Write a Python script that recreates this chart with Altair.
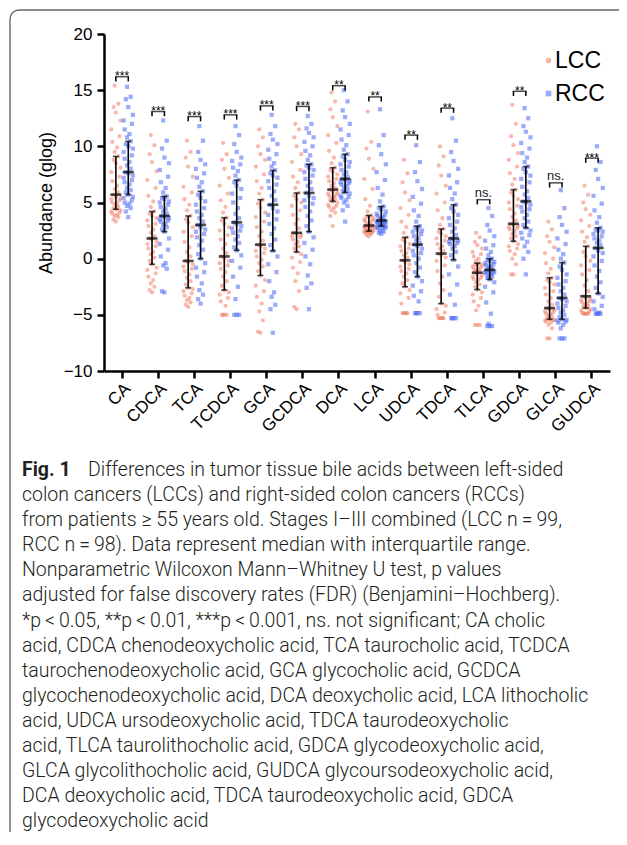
import altair as alt
import pandas as pd

acids = ["CA", "CDCA", "TCA", "TCDCA", "GCA", "GCDCA", "DCA", "LCA",
         "UDCA", "TDCA", "TLCA", "GDCA", "GLCA", "GUDCA"]
groups = ["LCC", "RCC"]

lcc_values = {
    "CA": [3.3,3.5,3.7,3.8,3.9,4.0,4.1,4.2,4.3,4.4,4.5,4.6,4.8,4.9,5.0,5.2,5.3,5.4,5.5,5.7,
           5.9,6.2,6.5,6.9,7.3,7.7,8.1,8.5,8.8,9.1,9.5,9.9,10.4,10.9,11.5,12.3,13.0,13.5,13.8,15.4],
    "CDCA": [-3.0,-2.8,-2.5,-2.2,-1.9,-1.6,-1.3,-1.0,-0.8,-0.5,-0.2,0.1,0.4,0.6,0.9,1.1,1.3,1.5,1.7,1.8,
             2.0,2.3,2.6,2.9,3.1,3.4,3.6,3.8,4.0,4.2,4.6,5.1,5.6,6.3,7.0,7.8,8.6,9.3,10.1,11.0],
    "TCA": [-4.3,-4.1,-3.9,-3.7,-3.5,-3.3,-3.1,-2.9,-2.7,-2.6,-2.3,-2.0,-1.7,-1.4,-1.1,-0.9,-0.7,-0.5,-0.3,-0.2,
            0.2,0.6,1.0,1.5,2.0,2.4,2.8,3.2,3.5,3.8,4.3,4.8,5.3,5.9,6.4,7.3,8.2,9.0,9.5,10.5],
    "TCDCA": [-5.0,-5.0,-5.0,-5.0,-4.2,-3.8,-3.5,-3.2,-3.0,-2.8,-2.4,-2.0,-1.6,-1.2,-0.9,-0.6,-0.4,-0.2,0.0,0.2,
              0.5,0.9,1.3,1.7,2.1,2.5,2.8,3.1,3.4,3.65,4.1,4.6,5.2,5.8,6.5,7.2,8.0,8.8,9.3,10.3],
    "GCA": [-6.6,-6.5,-5.5,-4.7,-4.0,-3.4,-2.9,-2.4,-1.9,-1.5,-1.1,-0.7,-0.4,-0.1,0.2,0.5,0.7,0.9,1.1,1.25,
            1.6,2.0,2.4,2.8,3.3,3.7,4.1,4.5,4.9,5.25,5.8,6.3,6.9,7.5,8.2,8.8,9.3,10.0,10.8,11.5],
    "GCDCA": [-4.5,-4.3,-2.9,-2.0,-1.3,-0.8,-0.3,0.1,0.4,0.6,0.9,1.1,1.3,1.5,1.7,1.9,2.0,2.1,2.2,2.3,
              2.7,3.1,3.5,3.9,4.3,4.7,5.0,5.3,5.6,5.85,6.3,6.8,7.3,7.9,8.6,9.3,10.0,10.8,11.5,12.0],
    "DCA": [2.9,3.8,4.1,4.3,4.5,4.6,4.7,4.8,5.0,5.1,5.2,5.3,5.4,5.5,5.6,5.7,5.8,5.9,6.0,6.15,
            6.3,6.5,6.7,6.9,7.1,7.3,7.5,7.7,7.9,8.1,8.5,9.0,9.6,10.3,11.0,11.8,12.6,13.3,14.0,14.8],
    "LCA": [2.0,2.1,2.2,2.3,2.3,2.35,2.4,2.4,2.45,2.45,2.5,2.55,2.6,2.65,2.7,2.75,2.8,2.85,2.9,2.95,
            3.0,3.1,3.2,3.3,3.4,3.5,3.6,3.7,3.75,3.85,4.2,4.7,5.3,6.2,7.1,8.0,8.9,9.8,10.4,13.1],
    "UDCA": [-4.85,-4.85,-4.85,-4.85,-4.85,-4.0,-3.5,-3.1,-2.8,-2.5,-2.2,-1.9,-1.6,-1.3,-1.1,-0.9,-0.7,-0.5,-0.3,-0.15,
             0.1,0.3,0.5,0.7,0.9,1.1,1.3,1.5,1.7,1.9,2.3,2.8,3.3,3.9,4.5,5.2,5.9,6.8,7.6,8.8],
    "TDCA": [-5.3,-5.3,-5.3,-5.3,-5.3,-5.0,-4.8,-4.5,-4.2,-4.0,-3.4,-2.8,-2.2,-1.6,-1.1,-0.6,-0.2,0.1,0.3,0.45,
             0.7,0.9,1.1,1.3,1.6,1.8,2.0,2.2,2.4,2.65,3.0,3.6,4.3,5.0,5.8,6.5,7.4,8.3,9.1,10.0],
    "TLCA": [-5.9,-5.9,-5.9,-4.6,-4.2,-3.8,-3.5,-3.2,-3.0,-2.75,-2.5,-2.3,-2.1,-1.9,-1.8,-1.7,-1.6,-1.5,-1.4,-1.25,
             -1.15,-1.05,-0.95,-0.9,-0.8,-0.7,-0.6,-0.55,-0.5,-0.4,-0.2,0.0,0.2,0.4,0.6,0.9,1.2,1.5,1.9,2.3],
    "GDCA": [-1.4,-1.4,-0.5,0.0,0.4,0.7,0.9,1.1,1.3,1.55,1.8,2.0,2.2,2.4,2.6,2.7,2.8,2.9,3.0,3.1,
             3.4,3.7,4.0,4.4,4.7,5.0,5.3,5.6,5.9,6.15,6.6,7.1,7.6,8.2,8.8,9.4,10.1,10.9,12.0,13.7],
    "GLCA": [-7.1,-7.1,-6.2,-5.9,-5.7,-5.6,-5.5,-5.5,-5.45,-5.4,-5.3,-5.2,-5.1,-5.0,-4.9,-4.8,-4.7,-4.6,-4.5,-4.4,
             -4.1,-3.8,-3.5,-3.2,-2.9,-2.6,-2.3,-2.1,-1.9,-1.7,-1.3,-0.9,-0.4,0.0,0.5,1.0,1.5,2.0,2.6,3.3],
    "GUDCA": [-4.9,-4.9,-4.9,-4.9,-4.9,-4.8,-4.7,-4.6,-4.5,-4.4,-4.3,-4.2,-4.1,-4.0,-3.9,-3.8,-3.7,-3.6,-3.5,-3.35,
              -2.9,-2.4,-1.9,-1.4,-1.0,-0.6,-0.2,0.2,0.6,1.1,1.5,1.9,2.4,2.9,3.4,3.9,4.4,5.0,5.7,6.5],
}

rcc_values = {
    "CA": [3.7,4.2,4.5,4.7,4.9,5.0,5.2,5.4,5.5,5.7,5.9,6.1,6.3,6.6,6.8,7.0,7.2,7.4,7.6,7.7,
           8.0,8.3,8.6,8.9,9.2,9.5,9.8,10.0,10.2,10.45,10.8,11.1,11.5,12.0,12.3,12.8,13.5,14.2,14.4,15.3],
    "CDCA": [-3.0,-2.9,-0.9,-0.6,-0.4,0.2,0.8,1.3,1.8,2.4,2.6,2.8,3.0,3.1,3.3,3.4,3.5,3.6,3.7,3.8,
             4.0,4.2,4.4,4.6,4.8,5.0,5.1,5.3,5.4,5.55,5.9,6.3,6.8,7.3,7.9,8.5,9.0,9.8,10.5,12.3],
    "TCA": [-4.0,-3.6,-3.2,-2.8,-2.2,-1.6,-1.2,-0.8,-0.4,0.0,0.4,0.8,1.2,1.6,1.9,2.2,2.4,2.6,2.8,3.0,
            3.3,3.6,3.9,4.2,4.5,4.8,5.1,5.4,5.7,6.0,6.4,6.8,7.2,7.6,8.0,8.4,8.8,9.5,10.5,11.8],
    "TCDCA": [-5.0,-5.0,-5.0,-3.6,-2.5,-1.6,-0.8,-0.2,0.3,0.74,1.0,1.4,1.7,2.0,2.3,2.5,2.7,2.9,3.1,3.23,
              3.6,4.0,4.5,5.0,5.4,5.8,6.2,6.5,6.8,7.0,7.4,7.8,8.1,8.4,8.7,9.0,9.5,10.2,11.0,11.8],
    "GCA": [-6.6,-4.5,-4.1,-3.4,-3.0,-2.0,-1.2,-0.5,0.2,0.7,1.2,1.7,2.2,2.7,3.1,3.5,3.9,4.2,4.5,4.8,
            5.2,5.6,6.0,6.3,6.6,6.9,7.2,7.4,7.6,7.86,8.2,8.5,8.9,9.3,9.7,10.2,10.6,11.1,11.8,12.8],
    "GCDCA": [-4.5,-2.6,-2.2,-1.5,-0.5,0.2,0.8,1.4,1.9,2.4,2.9,3.4,3.8,4.2,4.6,4.9,5.2,5.4,5.6,5.85,
              6.2,6.5,6.8,7.1,7.4,7.7,7.9,8.1,8.3,8.4,8.8,9.2,9.6,10.0,10.4,10.8,11.2,11.6,12.0,12.7],
    "DCA": [3.3,4.3,4.7,5.0,5.2,5.4,5.5,5.6,5.8,5.9,6.0,6.2,6.3,6.5,6.6,6.7,6.8,6.9,7.0,7.1,
            7.3,7.5,7.7,7.9,8.2,8.4,8.6,8.8,9.1,9.3,9.7,10.1,10.6,11.0,11.5,12.0,12.6,13.2,14.0,15.0],
    "LCA": [2.2,2.3,2.4,2.5,2.6,2.7,2.75,2.8,2.85,2.9,2.95,3.0,3.05,3.1,3.15,3.2,3.25,3.3,3.35,3.4,
            3.5,3.6,3.7,3.8,3.9,4.0,4.2,4.35,4.5,4.65,5.1,5.7,6.3,7.0,7.7,8.4,9.3,10.1,11.0,13.3],
    "UDCA": [-4.85,-4.85,-4.85,-4.85,-3.8,-3.3,-2.9,-2.4,-2.0,-1.6,-1.2,-0.8,-0.4,0.0,0.3,0.5,0.7,0.9,1.1,1.25,
             1.4,1.6,1.8,2.0,2.2,2.4,2.5,2.6,2.8,2.9,3.3,3.8,4.3,4.9,5.5,6.2,6.9,7.7,8.6,10.1],
    "TDCA": [-5.3,-5.3,-5.3,-5.3,-4.1,-3.2,-2.3,-1.4,-0.7,-0.1,0.3,0.6,0.9,1.1,1.3,1.4,1.5,1.6,1.7,1.8,
             2.1,2.4,2.7,3.0,3.3,3.6,3.9,4.2,4.5,4.8,5.3,5.8,6.3,6.8,7.4,8.0,8.7,9.5,10.5,12.5],
    "TLCA": [-6.0,-6.0,-6.0,-5.8,-4.9,-3.9,-3.0,-2.5,-2.1,-1.85,-1.7,-1.6,-1.5,-1.4,-1.3,-1.25,-1.2,-1.15,-1.1,-1.0,
             -0.9,-0.8,-0.7,-0.6,-0.5,-0.4,-0.3,-0.2,-0.1,0.0,0.3,0.6,0.9,1.2,1.6,2.0,2.5,3.0,3.8,4.5],
    "GDCA": [-1.4,0.0,0.6,1.1,1.5,1.8,2.1,2.3,2.5,2.75,3.0,3.3,3.6,3.9,4.2,4.4,4.6,4.8,5.0,5.1,
             5.4,5.7,6.0,6.4,6.8,7.1,7.4,7.7,8.0,8.2,8.6,9.0,9.4,9.8,10.3,10.8,11.3,11.8,12.5,13.4],
    "GLCA": [-7.1,-7.1,-7.1,-6.2,-5.9,-5.7,-5.6,-5.5,-5.45,-5.4,-5.2,-5.0,-4.8,-4.6,-4.4,-4.2,-4.0,-3.8,-3.6,-3.5,
             -3.2,-2.9,-2.6,-2.3,-2.0,-1.7,-1.4,-1.0,-0.7,-0.35,0.0,0.4,0.8,1.3,1.8,2.4,3.0,3.7,4.5,6.1],
    "GUDCA": [-4.9,-4.9,-4.9,-4.9,-4.8,-4.5,-4.2,-3.8,-3.4,-3.1,-2.6,-2.1,-1.6,-1.1,-0.6,-0.2,0.2,0.5,0.7,0.95,
              1.2,1.4,1.6,1.8,2.0,2.2,2.4,2.5,2.6,2.75,3.2,3.7,4.3,4.9,5.6,6.3,7.1,7.9,8.6,10.0],
}

# median and interquartile range
lcc_median = [5.7, 1.8, -0.2, 0.2, 1.25, 2.3, 6.15, 2.95, -0.15, 0.45, -1.25, 3.1, -4.4, -3.35]
lcc_q1 = [4.4, -0.5, -2.6, -2.8, -1.5, 0.6, 5.1, 2.45, -2.5, -4.0, -2.75, 1.55, -5.4, -4.4]
lcc_q3 = [9.1, 4.2, 3.8, 3.65, 5.25, 5.85, 8.1, 3.85, 1.9, 2.65, -0.4, 6.15, -1.7, 1.1]
rcc_median = [7.7, 3.8, 3.0, 3.23, 4.8, 5.85, 7.1, 3.4, 1.25, 1.8, -1.0, 5.1, -3.5, 0.95]
rcc_q1 = [5.7, 2.4, 0.0, 0.74, 0.7, 2.4, 5.9, 2.9, -1.6, -0.1, -1.85, 2.75, -5.4, -3.1]
rcc_q3 = [10.45, 5.55, 6.0, 7.0, 7.86, 8.4, 9.3, 4.65, 2.9, 4.8, 0.0, 8.2, -0.35, 2.75]

# significance brackets
sig_labels = ["***", "***", "***", "***", "***", "***", "**", "**", "**", "**", "ns.", "**", "ns.", "***"]
sig_y = [16.2, 13.1, 12.65, 12.8, 13.6, 13.55, 15.4, 14.4, 11.0, 13.4, 5.25, 14.9, 6.75, 8.95]

caption_rest = [
    "colon cancers (LCCs) and right-sided colon cancers (RCCs)",
    "from patients \u2265 55 years old. Stages I\u2013III combined (LCC n\u2009=\u200999,",
    "RCC n\u2009=\u200998). Data represent median with interquartile range.",
    "Nonparametric Wilcoxon Mann\u2013Whitney U test, p values",
    "adjusted for false discovery rates (FDR) (Benjamini\u2013Hochberg).",
    "*p\u2009<\u20090.05, **p\u2009<\u20090.01, ***p\u2009<\u20090.001, ns. not significant; CA cholic",
    "acid, CDCA chenodeoxycholic acid, TCA taurocholic acid, TCDCA",
    "taurochenodeoxycholic acid, GCA glycocholic acid, GCDCA",
    "glycochenodeoxycholic acid, DCA deoxycholic acid, LCA lithocholic",
    "acid, UDCA ursodeoxycholic acid, TDCA taurodeoxycholic",
    "acid, TLCA taurolithocholic acid, GDCA glycodeoxycholic acid,",
    "GLCA glycolithocholic acid, GUDCA glycoursodeoxycholic acid,",
    "DCA deoxycholic acid, TDCA taurodeoxycholic acid, GDCA",
    "glycodeoxycholic acid",
]

# ---------------- layout constants ----------------
W, H = 506, 337
PAD = {"left": 96, "top": 26, "right": 9, "bottom": 461}
OX, OY = 8 + PAD["left"], 8 + PAD["top"]      # page position of plot origin
RIGHT_EDGE = 8 + PAD["left"] + W + PAD["right"]
BOTTOM_EDGE = 8 + PAD["top"] + H + PAD["bottom"]
GOFF = {"LCC": -6.2, "RCC": 6.2}
JIT = [0, -2.4, 2.4, -1.2, 1.2, -3.6, 3.6, -4.6, 4.6]
HALF = W / len(acids) / 2
FONT = "Liberation Sans"
COLORS = ["#F27D68", "#4A67F2"]

rows = []
for g, src in (("LCC", lcc_values), ("RCC", rcc_values)):
    for a in acids:
        for i, v in enumerate(sorted(src[a])):
            rows.append({"acid": a, "group": g, "value": v, "off": GOFF[g] + JIT[i % len(JIT)]})
pts = pd.DataFrame(rows)

eb_rows = []
for j, a in enumerate(acids):
    eb_rows.append({"acid": a, "group": "LCC", "med": lcc_median[j], "q1": lcc_q1[j], "q3": lcc_q3[j], "off": GOFF["LCC"]})
    eb_rows.append({"acid": a, "group": "RCC", "med": rcc_median[j], "q1": rcc_q1[j], "q3": rcc_q3[j], "off": GOFF["RCC"]})
eb = pd.DataFrame(eb_rows)

sig = pd.DataFrame({"acid": acids, "y": sig_y, "label": sig_labels, "off": 0.0})
sig_ends = pd.concat([sig.assign(off=GOFF["LCC"]), sig.assign(off=GOFF["RCC"])])
sig_ends["y2"] = sig_ends["y"] - 0.42

xenc = alt.X("acid:N", sort=acids, scale=alt.Scale(paddingInner=0, paddingOuter=0),
             axis=alt.Axis(title=None, labelAngle=-45, labelFontSize=17, labelFont=FONT,
                           labelColor="black", tickSize=7, tickWidth=2.5, tickColor="black",
                           domainColor="black", domainWidth=2.5, labelPadding=2))
xoff = alt.XOffset("off:Q", scale=alt.Scale(domain=[-HALF, HALF]))
yscale = alt.Scale(domain=[-10, 20], nice=False, zero=False)
yenc = alt.Y("value:Q", scale=yscale,
             axis=alt.Axis(title="Abundance (glog)", values=[-10, -5, 0, 5, 10, 15, 20],
                           grid=False, labelFontSize=17, labelFont=FONT, labelColor="black",
                           tickSize=7, tickWidth=2.5, tickColor="black", domainColor="black",
                           domainWidth=2.5, labelPadding=5, titleFontSize=18, titleFont=FONT,
                           titleFontWeight="normal", titleColor="black", titlePadding=8))

leg = alt.Legend(title=None, orient="none", legendX=433, legendY=15,
                 labelFontSize=23, labelFont=FONT, labelColor="black",
                 symbolSize=32, symbolOpacity=0.55, rowPadding=9,
                 labelOffset=alt.ExprRef(expr="-5"))
points = alt.Chart(pts).mark_point(filled=True, opacity=0.55, size=18).encode(
    x=xenc, xOffset=xoff, y=yenc,
    color=alt.Color("group:N", scale=alt.Scale(domain=groups, range=COLORS), legend=leg),
    shape=alt.Shape("group:N", scale=alt.Scale(domain=groups, range=["circle", "square"]), legend=leg),
)

ebase = alt.Chart(eb)
vrule = ebase.mark_rule(color="black", strokeWidth=1.6).encode(
    x=alt.X("acid:N", sort=acids), xOffset=xoff,
    y=alt.Y("q1:Q", scale=yscale), y2="q3:Q")
cap1 = ebase.mark_tick(color="black", thickness=1.6, size=6).encode(
    x=alt.X("acid:N", sort=acids), xOffset=xoff, y=alt.Y("q1:Q", scale=yscale))
cap3 = ebase.mark_tick(color="black", thickness=1.6, size=6).encode(
    x=alt.X("acid:N", sort=acids), xOffset=xoff, y=alt.Y("q3:Q", scale=yscale))
medt = ebase.mark_tick(color="black", thickness=2.6, size=11).encode(
    x=alt.X("acid:N", sort=acids), xOffset=xoff, y=alt.Y("med:Q", scale=yscale))

br_h = alt.Chart(sig).mark_tick(color="black", thickness=1.5, size=14).encode(
    x=alt.X("acid:N", sort=acids), xOffset=xoff, y=alt.Y("y:Q", scale=yscale))
br_v = alt.Chart(sig_ends).mark_rule(color="black", strokeWidth=1.5).encode(
    x=alt.X("acid:N", sort=acids), xOffset=xoff, y=alt.Y("y:Q", scale=yscale), y2="y2:Q")
stars = alt.Chart(sig).transform_filter("datum.label != 'ns.'").mark_text(
    fontSize=12, font=FONT, baseline="alphabetic", dy=3.5, color="black").encode(
    x=alt.X("acid:N", sort=acids), xOffset=xoff, y=alt.Y("y:Q", scale=yscale), text="label:N")
nss = alt.Chart(sig).transform_filter("datum.label == 'ns.'").mark_text(
    fontSize=13, font=FONT, baseline="alphabetic", dy=-3, color="#222").encode(
    x=alt.X("acid:N", sort=acids), xOffset=xoff, y=alt.Y("y:Q", scale=yscale), text="label:N")

one = alt.Data(values=[{"k": 1}])
CAP_FONT = "Roboto"
CAP_SIZE = 19.5
CAP_TOP = 461
CAP_LH = 25.1
CAP_COLOR = "#231F20"
fig_bold = alt.Chart(one).mark_text(text="Fig. 1", font=CAP_FONT, fontWeight="bold", fontSize=CAP_SIZE,
                                    align="left", baseline="top", color=CAP_COLOR).encode(
    x=alt.value(22 - OX), y=alt.value(CAP_TOP - OY))
first_line = alt.Chart(one).mark_text(text="Differences in tumor tissue bile acids between left-sided",
                                      font=CAP_FONT, fontSize=CAP_SIZE, fontWeight=300, align="left",
                                      baseline="top", color=CAP_COLOR).encode(
    x=alt.value(88 - OX), y=alt.value(CAP_TOP - OY))
rest = alt.Chart(one).mark_text(text=caption_rest, font=CAP_FONT, fontSize=CAP_SIZE, fontWeight=300,
                                align="left", baseline="top", lineHeight=CAP_LH,
                                color=CAP_COLOR).encode(
    x=alt.value(22 - OX), y=alt.value(CAP_TOP + CAP_LH - OY))

# figure box: top edge, left edge and rounded top-left corner
FRAME = "#666666"
top_edge = alt.Chart(one).mark_rule(color=FRAME, strokeWidth=1.4).encode(
    x=alt.value(19 - OX), x2=alt.value(RIGHT_EDGE - OX), y=alt.value(10 - OY))
left_edge = alt.Chart(one).mark_rule(color=FRAME, strokeWidth=1.4).encode(
    x=alt.value(10 - OX), y=alt.value(19 - OY), y2=alt.value(BOTTOM_EDGE - OY))
corner = alt.Chart(one).mark_arc(color=FRAME, radius=9.7, radius2=8.3,
                                 theta=4.712389, theta2=6.283185).encode(
    x=alt.value(19 - OX), y=alt.value(19 - OY))

chart = alt.layer(
    top_edge, left_edge, corner, points, vrule, cap1, cap3, medt, br_h, br_v, stars, nss,
    fig_bold, first_line, rest
).properties(
    width=W, height=H,
    autosize=alt.AutoSizeParams(type="none"),
    padding=PAD,
).configure_view(stroke=None)

chart.save("out.html", embed_options={"renderer": "svg", "actions": False})
